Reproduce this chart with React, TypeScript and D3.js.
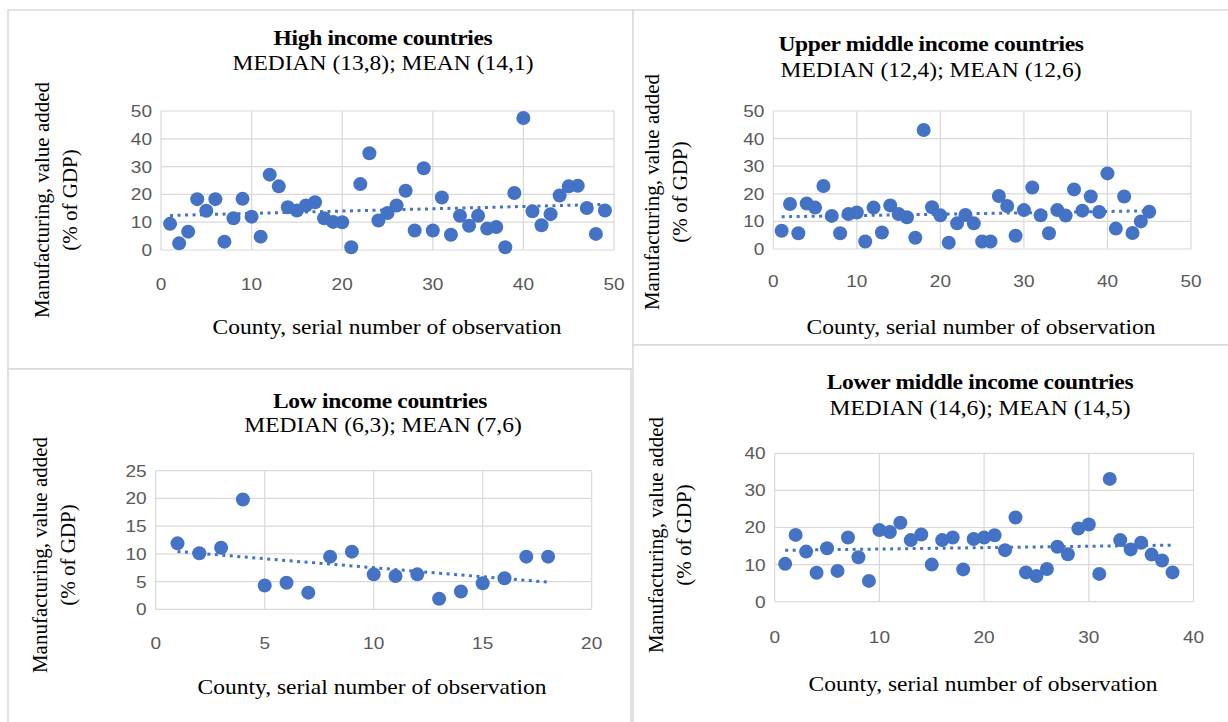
import React from "react";
import { scaleLinear, range, mean } from "d3";

// values, one per observation (x = 1..n)
const highIncome = [
  9.4, 2.4, 6.6, 18.3, 14.1, 18.3, 3.0, 11.4, 18.4, 12.0, 4.8, 27.1, 22.9, 15.4, 14.2, 16.0, 17.2,
  11.4, 10.1, 10.0, 1.0, 23.7, 34.8, 10.6, 13.3, 16.0, 21.3, 7.0, 29.4, 7.0, 18.9, 5.5, 12.3, 8.7,
  12.3, 7.7, 8.3, 1.0, 20.5, 47.5, 13.9, 8.9, 12.9, 19.6, 22.9, 23.1, 15.1, 5.8, 14.2
];
const upperMiddle = [
  6.6, 16.3, 5.7, 16.5, 15.0, 22.8, 12.0, 5.7, 12.7, 13.2, 2.7, 15.0, 6.0, 15.8, 12.7, 11.5, 4.1,
  43.1, 15.1, 12.2, 2.3, 9.3, 12.3, 9.3, 2.7, 2.7, 19.2, 15.6, 4.8, 14.1, 22.3, 12.2, 5.7, 14.1,
  12.1, 21.6, 13.9, 19.0, 13.4, 27.4, 7.4, 19.0, 5.8, 10.0, 13.5
];
const lowIncome = [
  11.9, 10.1, 11.1, 19.8, 4.3, 4.8, 3.0, 9.5, 10.4, 6.3, 6.0, 6.3, 1.9, 3.2, 4.7, 5.6, 9.5, 9.5
];
const lowerMiddle = [
  10.2, 18.0, 13.5, 7.8, 14.4, 8.3, 17.3, 12.0, 5.6, 19.3, 18.8, 21.3, 16.6, 18.1, 10.0, 16.6,
  17.3, 8.7, 16.9, 17.3, 17.9, 13.9, 22.7, 7.9, 6.9, 8.8, 14.8, 12.8, 19.7, 20.8, 7.5, 33.1, 16.6,
  14.1, 15.9, 12.7, 11.1, 7.9
];

const titles = [
  "High income countries",
  "Upper middle income countries",
  "Low income countries",
  "Lower middle income countries"
];
const subtitles = [
  "MEDIAN (13,8); MEAN (14,1)",
  "MEDIAN (12,4); MEAN (12,6)",
  "MEDIAN (6,3); MEAN (7,6)",
  "MEDIAN (14,6); MEAN (14,5)"
];
const xTicks = [
  [0, 10, 20, 30, 40, 50],
  [0, 10, 20, 30, 40, 50],
  [0, 5, 10, 15, 20],
  [0, 10, 20, 30, 40]
];
const yTicks = [
  [0, 10, 20, 30, 40, 50],
  [0, 10, 20, 30, 40, 50],
  [0, 5, 10, 15, 20, 25],
  [0, 10, 20, 30, 40]
];
const xAxisTitle = "County, serial number of observation";
const yAxisTitle = ["Manufacturing, value added", "(% of GDP)"];

const BLUE = "#4472C4";
const GRID = "#d9d9d9";
const SERIF = "'Liberation Serif', 'Times New Roman', serif";
const SANS = "'Liberation Sans', Arial, sans-serif";
const STRETCH = 1.12; // the source image is a bit wider than tall

// layout of each panel on the page
const layouts = [
  { box: [8, 10, 633, 369], plot: [161, 614, 111, 250], title: [383, 38], sub: [383, 63], xt: 284, xTitle: [387, 327], yTitle: [42, 70, 200] },
  { box: [633, 10, 1232, 345], plot: [773.3, 1191, 111, 249], title: [931, 44], sub: [931, 70], xt: 281, xTitle: [981, 327], yTitle: [652, 680, 192] },
  { box: [8, 369, 631, 726], plot: [155.7, 591.7, 470.7, 609.3], title: [380, 401], sub: [383, 425], xt: 643, xTitle: [372, 687], yTitle: [40, 68, 555] },
  { box: [633, 345, 1232, 726], plot: [774.7, 1193.5, 453.3, 601.7], title: [980, 382], sub: [980, 408], xt: 637, xTitle: [983, 684], yTitle: [656, 684, 535] }
];

function HText({ x, y, anchor = "middle", children, ...rest }: any) {
  return (
    <text
      transform={`translate(${x},${y}) scale(${STRETCH},1)`}
      dy="0.35em"
      textAnchor={anchor}
      {...rest}
    >
      {children}
    </text>
  );
}

function Panel({ values, idx }: { values: number[]; idx: number }) {
  const L = layouts[idx];
  const xt = xTicks[idx];
  const yt = yTicks[idx];
  const [px0, px1, py0, py1] = L.plot;
  const x = scaleLinear().domain([xt[0], xt[xt.length - 1]]).range([px0, px1]);
  const y = scaleLinear().domain([yt[0], yt[yt.length - 1]]).range([py1, py0]);

  // linear trend (least squares)
  const xs = range(1, values.length + 1);
  const mx = mean(xs) as number;
  const my = mean(values) as number;
  let sxy = 0, sxx = 0;
  xs.forEach((xi, i) => {
    sxy += (xi - mx) * (values[i] - my);
    sxx += (xi - mx) * (xi - mx);
  });
  const slope = sxy / sxx;
  const icpt = my - slope * mx;
  const xa = 1, xb = values.length;

  const [bx0, by0, bx1, by1] = L.box;
  return (
    <g>
      <rect x={bx0} y={by0} width={bx1 - bx0} height={by1 - by0} fill="white" stroke={GRID} strokeWidth={1.5} />
      <HText x={L.title[0]} y={L.title[1]} fontFamily={SERIF} fontWeight="bold" fontSize={21} letterSpacing={-0.3}>
        {titles[idx]}
      </HText>
      <HText x={L.sub[0]} y={L.sub[1]} fontFamily={SERIF} fontSize={21}>
        {subtitles[idx]}
      </HText>
      {yt.map(t => (
        <line key={"gy" + t} x1={px0} x2={px1} y1={y(t)} y2={y(t)} stroke={GRID} strokeWidth={1.2} />
      ))}
      {xt.map(t => (
        <line key={"gx" + t} x1={x(t)} x2={x(t)} y1={py0} y2={py1} stroke={GRID} strokeWidth={1.2} />
      ))}
      {yt.map(t => (
        <HText key={"ty" + t} x={px0 - 9} y={y(t)} anchor="end" fontFamily={SANS} fontSize={17} fill="#595959">
          {t}
        </HText>
      ))}
      {xt.map(t => (
        <HText key={"tx" + t} x={x(t)} y={L.xt} fontFamily={SANS} fontSize={17} fill="#595959">
          {t}
        </HText>
      ))}
      {values.map((v, i) => (
        <circle key={"p" + i} cx={x(i + 1)} cy={y(v)} r={7} fill={BLUE} />
      ))}
      <line
        x1={x(xa)} y1={y(icpt + slope * xa)} x2={x(xb)} y2={y(icpt + slope * xb)}
        stroke={BLUE} strokeWidth={3} strokeDasharray="3 4.5"
      />
      <HText x={L.xTitle[0]} y={L.xTitle[1]} fontFamily={SERIF} fontSize={21}>
        {xAxisTitle}
      </HText>
      <text transform={`translate(${L.yTitle[0]},${L.yTitle[2]}) rotate(-90)`} dy="0.35em" textAnchor="middle" fontFamily={SERIF} fontSize={21}>
        {yAxisTitle[0]}
      </text>
      <text transform={`translate(${L.yTitle[1]},${L.yTitle[2]}) rotate(-90)`} dy="0.35em" textAnchor="middle" fontFamily={SERIF} fontSize={21}>
        {yAxisTitle[1]}
      </text>
    </g>
  );
}

export default function App() {
  const series = [highIncome, upperMiddle, lowIncome, lowerMiddle];
  return (
    <svg width={1228} height={722} style={{ position: "absolute", left: 0, top: 0, background: "white" }}>
      {series.map((s, i) => (
        <Panel key={i} values={s} idx={i} />
      ))}
    </svg>
  );
}
